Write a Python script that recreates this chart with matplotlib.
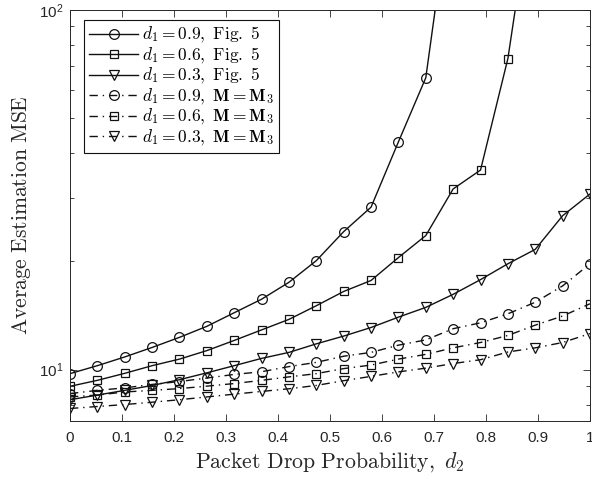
import matplotlib
matplotlib.use("Agg")
import matplotlib.pyplot as plt
from matplotlib.font_manager import FontProperties
from matplotlib.ticker import LogLocator, FixedLocator, FixedFormatter, NullFormatter
import numpy as np

# ---- data ----
d2 = [0.0, 0.0526, 0.1053, 0.1579, 0.2105, 0.2632, 0.3158, 0.3684, 0.4211, 0.4737,
      0.5263, 0.5789, 0.6316, 0.6842, 0.7368, 0.7895, 0.8421, 0.8947, 0.9474, 1.0]

fig5_d09 = [9.75, 10.26, 10.85, 11.53, 12.3, 13.2, 14.4, 15.7, 17.5, 20.1,
            24.2, 28.3, 43.0, 64.8, 230.0]
fig5_d06 = [8.99, 9.34, 9.77, 10.26, 10.7, 11.3, 12.06, 12.9, 13.8, 15.06,
            16.5, 17.7, 20.5, 23.6, 31.8, 35.9, 73.3, 235.0]
fig5_d03 = [8.25, 8.5, 8.76, 9.04, 9.38, 9.8, 10.26, 10.75, 11.17, 11.8,
            12.4, 13.1, 14.0, 14.9, 16.2, 17.8, 19.7, 21.6, 26.8, 30.8]
m3_d09 = [8.58, 8.76, 8.9, 9.1, 9.27, 9.48, 9.7, 9.87, 10.2, 10.48,
          10.9, 11.17, 11.7, 12.1, 13.0, 13.5, 14.3, 15.4, 17.1, 19.7]
m3_d06 = [8.4, 8.5, 8.67, 8.76, 8.86, 9.0, 9.15, 9.34, 9.55, 9.75,
          10.07, 10.3, 10.7, 11.03, 11.5, 11.9, 12.45, 13.3, 14.1, 15.25]
m3_d03 = [7.8, 7.9, 8.0, 8.12, 8.25, 8.4, 8.55, 8.7, 8.85, 9.04,
          9.32, 9.58, 9.86, 10.1, 10.4, 10.66, 11.2, 11.5, 11.9, 12.6]

labels = [r'$d_1=0.9,\ \mathrm{Fig.\ 5}$',
          r'$d_1=0.6,\ \mathrm{Fig.\ 5}$',
          r'$d_1=0.3,\ \mathrm{Fig.\ 5}$',
          r'$d_1=0.9,\ \mathbf{M}=\mathbf{M}_3$',
          r'$d_1=0.6,\ \mathbf{M}=\mathbf{M}_3$',
          r'$d_1=0.3,\ \mathbf{M}=\mathbf{M}_3$']

xticks = [0, 0.1, 0.2, 0.3, 0.4, 0.5, 0.6, 0.7, 0.8, 0.9, 1]
xticklabels = ['0', '0.1', '0.2', '0.3', '0.4', '0.5', '0.6', '0.7', '0.8', '0.9', '1']

# ---- style ----
plt.rcParams['font.family'] = ['Liberation Sans', 'DejaVu Sans']
plt.rcParams['mathtext.fontset'] = 'custom'
plt.rcParams['mathtext.rm'] = 'Liberation Sans'
plt.rcParams['mathtext.it'] = 'Liberation Sans:italic'
plt.rcParams['mathtext.bf'] = 'Liberation Sans:bold'

gray = '#262626'
lc = '#111111'

fig = plt.figure(figsize=(5.92, 4.78), dpi=100)
ax = fig.add_axes([70/592, 1 - 421/478, 520/592, 411/478])

series = [(fig5_d09, 'o', '-'), (fig5_d06, 's', '-'), (fig5_d03, 'v', '-'),
          (m3_d09, 'o', 'dd'), (m3_d06, 's', 'dd'), (m3_d03, 'v', 'dd')]
msize = {'o': 7.0, 's': 6.0, 'v': 7.2}
for (vals, mk, ls), lab in zip(series, labels):
    kw = dict(color=lc, lw=1.0, marker=mk, ms=msize[mk], mfc='none', mec=lc,
              mew=0.9, label=lab)
    if ls == '-':
        ax.plot(d2[:len(vals)], vals, '-', **kw)
    else:
        ax.plot(d2[:len(vals)], vals, linestyle=(0, (6, 3.5, 1, 3.5)), **kw)

ax.set_yscale('log')
ax.set_xlim(0, 1)
ax.set_ylim(7.2, 100)

ax.xaxis.set_major_locator(FixedLocator(xticks))
ax.xaxis.set_major_formatter(FixedFormatter(xticklabels))
ax.yaxis.set_major_locator(FixedLocator([10, 100]))
ax.yaxis.set_major_formatter(FixedFormatter([r'$10^{1}$', r'$10^{2}$']))
ax.yaxis.set_minor_locator(LogLocator(base=10, subs=np.arange(2, 10)))
ax.yaxis.set_minor_formatter(NullFormatter())

ax.tick_params(which='both', direction='in', top=True, right=True,
               colors=gray, labelsize=11)
ax.tick_params(which='major', length=5, width=0.6)
ax.tick_params(which='minor', length=3, width=0.6)
ax.tick_params(axis='x', pad=7)
ax.tick_params(axis='y', pad=5)
for sp in ax.spines.values():
    sp.set_color(gray)
    sp.set_linewidth(0.7)

ax.set_xlabel(r'$\mathrm{Packet\ Drop\ Probability},\ d_2$', fontsize=15.7,
              color=gray, math_fontfamily='cm', labelpad=4)
ax.set_ylabel(r'$\mathrm{Average\ Estimation\ MSE}$', fontsize=15.5,
              color=gray, math_fontfamily='cm', labelpad=4)

leg = ax.legend(loc='upper left', bbox_to_anchor=(14/520, 1 - 10/411),
                borderaxespad=0, prop=FontProperties(size=12.5, math_fontfamily='cm'),
                handlelength=2.8, handletextpad=0.25, labelspacing=0.03,
                borderpad=0.3, fancybox=False, framealpha=1, edgecolor=lc)
leg.get_frame().set_linewidth(0.8)

fig.savefig('out.png', dpi=100)
